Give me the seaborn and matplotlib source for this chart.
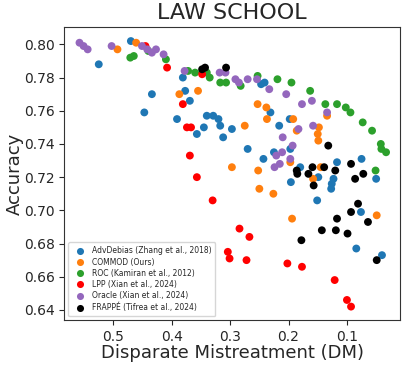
import pandas as pd
import matplotlib
matplotlib.use("Agg")
import matplotlib.pyplot as plt
import seaborn as sns

# -----------------------------
# Data (DM, accuracy)
# -----------------------------
adv_dm = [0.525, 0.470, 0.434, 0.447, 0.381, 0.377, 0.369, 0.391, 0.357, 0.345,
          0.340, 0.329, 0.320, 0.317, 0.312, 0.297, 0.247, 0.241, 0.231, 0.216,
          0.198, 0.270, 0.225, 0.197, 0.243, 0.180, 0.196, 0.149, 0.123, 0.126,
          0.127, 0.117, 0.075, 0.050, 0.151, 0.076, 0.084, 0.040]
adv_acc = [0.788, 0.802, 0.770, 0.759, 0.780, 0.772, 0.766, 0.755, 0.746, 0.750,
           0.757, 0.757, 0.755, 0.751, 0.744, 0.749, 0.776, 0.777, 0.759, 0.751,
           0.755, 0.737, 0.735, 0.737, 0.731, 0.726, 0.717, 0.720, 0.719, 0.716,
           0.713, 0.729, 0.731, 0.719, 0.706, 0.699, 0.677, 0.673]

commod_dm = [0.493, 0.461, 0.387, 0.355, 0.253, 0.238, 0.237, 0.192, 0.275, 0.186,
             0.148, 0.150, 0.149, 0.134, 0.297, 0.252, 0.197, 0.250, 0.226, 0.158,
             0.145, 0.194, 0.049]
commod_acc = [0.797, 0.801, 0.770, 0.772, 0.764, 0.762, 0.755, 0.755, 0.751, 0.748,
              0.750, 0.746, 0.742, 0.757, 0.726, 0.724, 0.729, 0.713, 0.710, 0.719,
              0.726, 0.695, 0.697]

roc_dm = [0.471, 0.465, 0.440, 0.410, 0.372, 0.360, 0.340, 0.335, 0.317, 0.307,
          0.282, 0.253, 0.219, 0.195, 0.163, 0.137, 0.117, 0.102, 0.094, 0.073,
          0.057, 0.042, 0.041, 0.033, 0.051]
roc_acc = [0.792, 0.793, 0.796, 0.791, 0.784, 0.783, 0.783, 0.780, 0.777, 0.777,
           0.775, 0.781, 0.779, 0.777, 0.772, 0.764, 0.764, 0.762, 0.759, 0.753,
           0.748, 0.740, 0.737, 0.735, 0.724]

lpp_dm = [0.445, 0.408, 0.381, 0.374, 0.367, 0.348, 0.369, 0.357, 0.330, 0.304,
          0.301, 0.284, 0.267, 0.272, 0.202, 0.177, 0.121, 0.100, 0.093]
lpp_acc = [0.799, 0.786, 0.764, 0.750, 0.750, 0.782, 0.733, 0.720, 0.706, 0.675,
           0.671, 0.689, 0.684, 0.670, 0.668, 0.666, 0.658, 0.646, 0.642]

oracle_dm = [0.558, 0.551, 0.544, 0.503, 0.451, 0.442, 0.434, 0.427, 0.414, 0.378,
             0.318, 0.308, 0.291, 0.285, 0.270, 0.254, 0.233, 0.204, 0.177, 0.160,
             0.134, 0.158, 0.183, 0.210, 0.193, 0.221, 0.211, 0.197, 0.224, 0.215]
oracle_acc = [0.801, 0.799, 0.797, 0.799, 0.799, 0.797, 0.795, 0.797, 0.794, 0.784,
              0.783, 0.783, 0.779, 0.777, 0.779, 0.779, 0.773, 0.770, 0.764, 0.766,
              0.759, 0.751, 0.749, 0.744, 0.739, 0.733, 0.735, 0.731, 0.726, 0.728]

frappe_dm = [0.348, 0.343, 0.307, 0.132, 0.186, 0.185, 0.166, 0.159, 0.139, 0.120,
             0.157, 0.093, 0.086, 0.072, 0.081, 0.093, 0.117, 0.064, 0.143, 0.119,
             0.099, 0.178, 0.049]
frappe_acc = [0.785, 0.786, 0.786, 0.739, 0.724, 0.722, 0.722, 0.726, 0.726, 0.724,
              0.715, 0.728, 0.719, 0.722, 0.704, 0.699, 0.695, 0.693, 0.688, 0.688,
              0.686, 0.682, 0.670]

methods = ["AdvDebias (Zhang et al., 2018)", "COMMOD (Ours)",
           "ROC (Kamiran et al., 2012)", "LPP (Xian et al., 2024)",
           "Oracle (Xian et al., 2024)", "FRAPPÉ (Tifrea et al., 2024)"]
colors = ["#1f77b4", "#ff7f0e", "#2ca02c", "red", "#9467bd", "black"]

xs = [adv_dm, commod_dm, roc_dm, lpp_dm, oracle_dm, frappe_dm]
ys = [adv_acc, commod_acc, roc_acc, lpp_acc, oracle_acc, frappe_acc]

frames = []
for name, x, y in zip(methods, xs, ys):
    frames.append(pd.DataFrame({"DM": x, "Accuracy": y, "Method": name}))
df = pd.concat(frames, ignore_index=True)

# -----------------------------
# Plot
# -----------------------------
sns.set_style("ticks")
plt.rcParams["font.family"] = ["DejaVu Sans"]

fig, ax = plt.subplots(figsize=(4.07, 3.66), dpi=100)
sns.scatterplot(data=df, x="DM", y="Accuracy", hue="Method",
                hue_order=methods, palette=dict(zip(methods, colors)),
                s=32, linewidth=0, ax=ax)

ax.set_xlim(0.584, 0.009)
ax.set_ylim(0.634, 0.8102)
ax.set_xticks([0.5, 0.4, 0.3, 0.2, 0.1])
ax.set_yticks([0.64, 0.66, 0.68, 0.70, 0.72, 0.74, 0.76, 0.78, 0.80])
ax.set_yticklabels(["0.64", "0.66", "0.68", "0.70", "0.72", "0.74",
                    "0.76", "0.78", "0.80"])
ax.tick_params(labelsize=10)

ax.set_title("LAW SCHOOL", fontsize=16)
ax.set_xlabel("Disparate Mistreatment (DM)", fontsize=13, labelpad=0)
ax.set_ylabel("Accuracy", fontsize=13)
ax.yaxis.set_label_coords(-0.119, 0.5)

for sp in ax.spines.values():
    sp.set_visible(True)
    sp.set_color("#333333")

ax.legend(loc="lower left", fontsize=5.5, markerscale=0.9,
          handletextpad=0.6, borderpad=0.5, labelspacing=0.3)

plt.subplots_adjust(left=0.158, right=0.983, bottom=0.126, top=0.925)
plt.savefig("out.png", dpi=100)
